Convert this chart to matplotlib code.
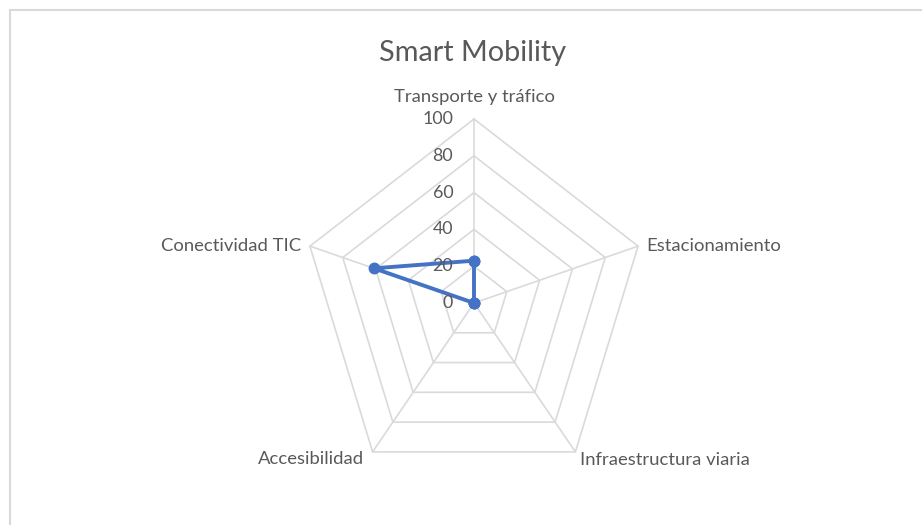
import numpy as np
import matplotlib
matplotlib.use("Agg")
import matplotlib.pyplot as plt
from matplotlib.lines import Line2D

title = "Smart Mobility"
categories = ["Transporte y tráfico", "Estacionamiento", "Infraestructura viaria",
              "Accesibilidad", "Conectividad TIC"]
values = [23, 0, 0, 0, 61]
grid_levels = [20, 40, 60, 80, 100]
tick_values = [0, 20, 40, 60, 80, 100]
tick_labels = ["0", "20", "40", "60", "80", "100"]

plt.rcParams['font.family'] = ['Lato', 'DejaVu Sans']

W, H = 922, 525
fig = plt.figure(figsize=(W / 100, H / 100), dpi=100)
ax = fig.add_axes([0, 0, 1, 1])
ax.set_axis_off()

cx, cy = 474, 303          # centre in pixels (from top)
kx, ky = 1.725, 1.84       # pixels per unit
ax.set_xlim(-cx / kx, (W - cx) / kx)
ax.set_ylim(-(H - cy) / ky, cy / ky)

n = len(categories)
angles = np.pi / 2 - np.arange(n) * 2 * np.pi / n
ux, uy = np.cos(angles), np.sin(angles)

grid_col = "#DADADA"
for lvl in grid_levels:
    xs = np.append(ux * lvl, ux[0] * lvl)
    ys = np.append(uy * lvl, uy[0] * lvl)
    ax.plot(xs, ys, color=grid_col, lw=1.2, zorder=1, solid_joinstyle='miter')
top = max(grid_levels)
for i in range(n):
    ax.plot([0, ux[i] * top], [0, uy[i] * top], color=grid_col, lw=1.2, zorder=1)

v = np.array(values, dtype=float)
xs = np.append(ux * v, ux[0] * v[0])
ys = np.append(uy * v, uy[0] * v[0])
ax.plot(xs, ys, color="#4472C4", lw=2.8, marker='o', markersize=7.5,
        zorder=3, solid_joinstyle='round')

txt_col = "#595959"
for t, lab in zip(tick_values, tick_labels):
    ax.annotate(lab, (0, t), xytext=(-15, 0), textcoords='offset points',
                ha='right', va='center', fontsize=12.8, color=txt_col)

offsets = [((0, 16), 'center', 'center'),
           ((6, 0), 'left', 'center'),
           ((3, -6), 'left', 'center'),
           ((-6, -5), 'right', 'center'),
           ((-6, 0), 'right', 'center')]
for i, lab in enumerate(categories):
    off, ha, va = offsets[i]
    ax.annotate(lab, (ux[i] * top, uy[i] * top), xytext=off,
                textcoords='offset points', ha=ha, va=va,
                fontsize=13.3, color=txt_col)

fig.text(473 / W, 1 - 53 / H, title, ha='center', va='center',
         fontsize=20.8, color=txt_col)

border = "#D9D9D9"
fig.add_artist(Line2D([10 / W, 1], [1 - 10 / H, 1 - 10 / H],
                      transform=fig.transFigure, color=border, lw=1.5))
fig.add_artist(Line2D([10 / W, 10 / W], [0, 1 - 10 / H],
                      transform=fig.transFigure, color=border, lw=1.5))

fig.savefig("out.png", dpi=100, facecolor="white")
